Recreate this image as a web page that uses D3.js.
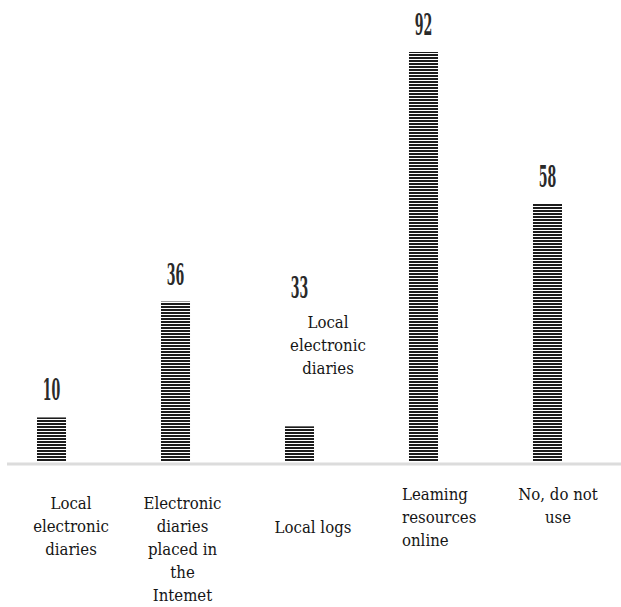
<!DOCTYPE html>
<html>
<head>
<meta charset="utf-8">
<script src="https://cdn.jsdelivr.net/npm/d3@7"></script>
<style>
  html, body { margin: 0; padding: 0; background: #fff; }
  svg { display: block; }
  .serif { font-family: "DejaVu Serif", serif; }
</style>
</head>
<body>
<svg id="chart" width="621" height="607"></svg>
<script>
// ---- data ----
const categories = [
  "Local electronic diaries",
  "Electronic diaries placed in the Intemet",
  "Local logs",
  "Leaming resources online",
  "No, do not use"
];
const categoryLines = [
  ["Local", "electronic", "diaries"],
  ["Electronic", "diaries", "placed in", "the", "Intemet"],
  ["Local logs"],
  ["Leaming", "resources", "online"],
  ["No, do not", "use"]
];
const barValues = [10, 36, 8, 92, 58];     // drawn bar heights
const labelValues = [10, 36, 33, 92, 58];  // printed value labels
const overlayLines = ["Local", "electronic", "diaries"];

// ---- layout ----
const svg = d3.select("#chart");
const baseY = 462;
const y = d3.scaleLinear().domain([0, 92]).range([baseY, 52]);
const x = d3.scaleBand().domain(categories).range([6, 593])
  .paddingInner(0.766).paddingOuter(0.25);

// stripe pattern
const defs = svg.append("defs");
const pat = defs.append("pattern")
  .attr("id", "stripes").attr("patternUnits", "userSpaceOnUse")
  .attr("width", 10).attr("height", 3);
pat.append("rect").attr("width", 10).attr("height", 3).attr("fill", "#fff");
pat.append("rect").attr("width", 10).attr("height", 2).attr("fill", "#1c1c1c");

// baseline
svg.append("line")
  .attr("x1", 7).attr("x2", 621).attr("y1", 464).attr("y2", 464)
  .attr("stroke", "#dcdcdc").attr("stroke-width", 3);

// bars
svg.selectAll("rect.bar").data(categories).enter().append("rect")
  .attr("class", "bar")
  .attr("x", d => x(d))
  .attr("width", x.bandwidth())
  .attr("y", (d, i) => y(barValues[i]))
  .attr("height", (d, i) => baseY - y(barValues[i]))
  .attr("fill", "url(#stripes)");

// value labels (condensed serif)
svg.selectAll("text.val").data(categories).enter().append("text")
  .attr("class", "val serif")
  .attr("transform", (d, i) => `translate(${x(d) + x.bandwidth() / 2},${y(labelValues[i]) - 17}) scale(0.42,1)`)
  .attr("text-anchor", "middle")
  .attr("font-size", 30)
  .attr("font-weight", "bold")
  .attr("fill", "#2a2a2a")
  .text((d, i) => labelValues[i]);

// multi-line serif text block, horizontally narrowed to mimic Times
const lineH = 23;
function textBlock(cx, y0, lines, anchor) {
  const t = svg.append("text")
    .attr("class", "serif")
    .attr("transform", `translate(${cx},${y0}) scale(0.88,1)`)
    .attr("text-anchor", anchor)
    .attr("font-size", 17)
    .attr("fill", "#151515");
  lines.forEach((ln, k) => {
    t.append("tspan").attr("x", 0).attr("y", k * lineH).text(ln);
  });
}

// category labels
const catLayout = [
  { dx: 19.5, y: 509, anchor: "middle" },
  { dx: 7,    y: 509, anchor: "middle" },
  { dx: 13.5, y: 533, anchor: "middle" },
  { dx: -21.5, y: 500, anchor: "start" },
  { dx: 10.5, y: 500, anchor: "middle" }
];
categories.forEach((c, i) => {
  const cx = x(c) + x.bandwidth() / 2 + catLayout[i].dx;
  textBlock(cx, catLayout[i].y, categoryLines[i], catLayout[i].anchor);
});

// overlay text near third bar
textBlock(x(categories[2]) + x.bandwidth() / 2 + 28.5, 328, overlayLines, "middle");
</script>
</body>
</html>
